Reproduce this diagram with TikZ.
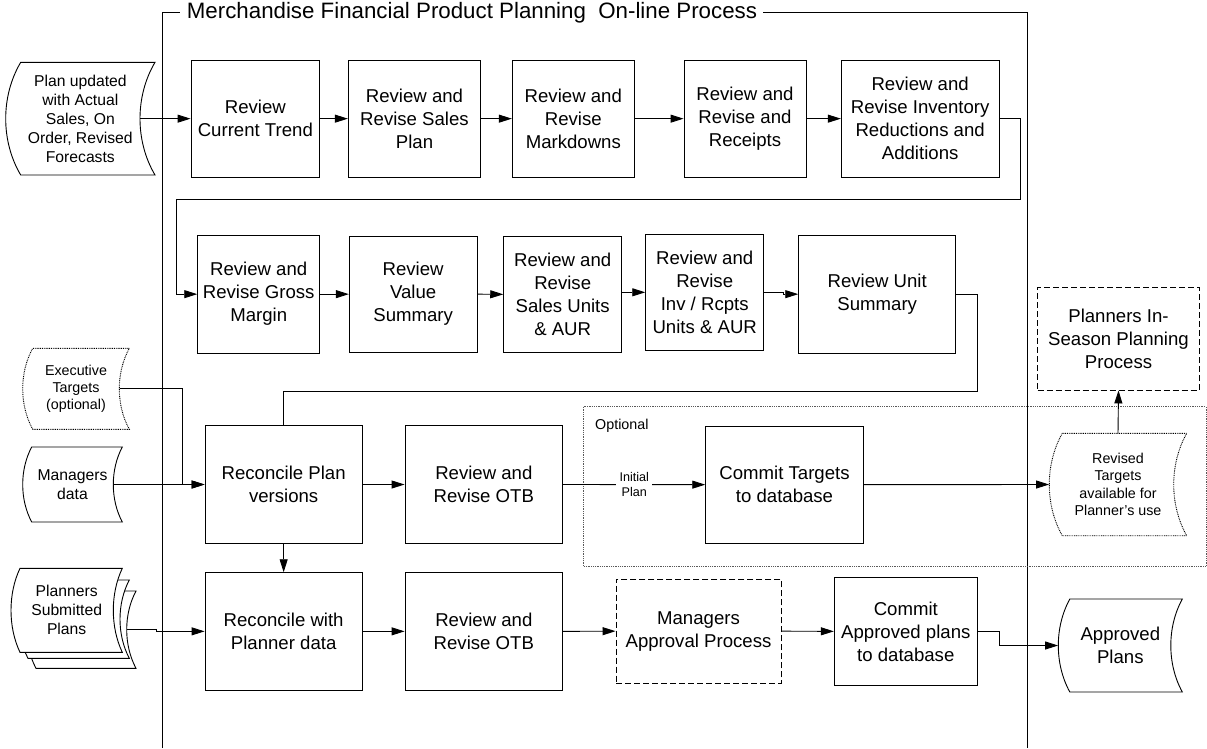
\documentclass[tikz,border=0pt]{standalone}
\usepackage{fontspec}
\setmainfont{Liberation Sans}
\usetikzlibrary{arrows.meta,calc}

% process box from its corners: [style]{name}{x1}{y1}{x2}{y2}{text}
\newcommand\procbox[7][]{%
  \node[box,#1,minimum width={(#5)-(#3)},minimum height={(#6)-(#4)}]
    (#2) at ({((#3)+(#5))/2},{((#4)+(#6))/2}) {#7};}

% stored-data shape: [style]{name}{leftmost x}{top}{right corners x}{bottom}{bulge}{text style}{text}
\newcommand\datadoc[9][]{%
  \draw[docline,#1] (#5,#4) -- ({(#3)+(#7)},#4)
    .. controls ({(#3)-(#7)/3},{(#4)+0.3*((#6)-(#4))}) and ({(#3)-(#7)/3},{(#6)-0.3*((#6)-(#4))}) ..
    ({(#3)+(#7)},#6) -- (#5,#6)
    .. controls ({(#5)-4*(#7)/3},{(#6)-0.3*((#6)-(#4))}) and ({(#5)-4*(#7)/3},{(#4)+0.3*((#6)-(#4))}) ..
    (#5,#4) -- cycle;
  \node[docnode,#8,minimum width={(#5)-(#3)},minimum height={(#6)-(#4)}]
    (#2) at ({((#3)+(#5))/2},{((#4)+(#6))/2}) {#9};}

\begin{document}
\begin{tikzpicture}[x=1pt,y=-1pt,
  every node/.style={inner sep=0pt},
  box/.style={draw, line width=0.9pt, align=center, font=\fontsize{18.6}{23}\selectfont},
  dashbox/.style={dash pattern=on 6pt off 3pt},
  docnode/.style={align=center},
  docline/.style={line width=0.9pt},
  docbig/.style={font=\fontsize{15.7}{19}\selectfont},
  docsmall/.style={font=\fontsize{14.3}{17.4}\selectfont},
  dotline/.style={dash pattern=on 0.9pt off 0.9pt},
  arr/.style={line width=0.9pt, -{Triangle[length=13pt,width=8pt]}},
  link/.style={line width=0.9pt},
]
\useasboundingbox (0,0) rectangle (1207,748);

% process frame with its title
\draw[line width=1pt] (162,748) -- (162,12.3) -- (180,12.3);
\draw[line width=1pt] (763,12.3) -- (1027.7,12.3) -- (1027.7,748);
\node[anchor=base west, font=\fontsize{22.3}{26}\selectfont] (title) at (186.7,18.8)
  {Merchandise Financial Product Planning\ \ On-line Process};

% optional area
\draw[dotline, line width=0.9pt, black!65] (583.7,406.7) rectangle (1206,566.7);
\node[anchor=base west, docsmall] (optlabel) at (595,429.3) {Optional};

% first row
\procbox{b1}{191}{60}{319.7}{177.3}{Review\\Current Trend}
\procbox{b2}{348.3}{60}{480.7}{177.3}{Review and\\Revise Sales\\Plan}
\procbox{b3}{512.3}{60}{634.3}{177.3}{Review and\\Revise\\Markdowns}
\procbox{b4}{684}{60}{806}{177.3}{Review and\\Revise and\\Receipts}
\procbox{b5}{841.3}{60}{999}{177.3}{Review and\\Revise Inventory\\Reductions and\\Additions}

% second row
\procbox{b6}{197.7}{235}{319.7}{353.3}{Review and\\Revise Gross\\Margin}
\procbox{b7}{349.3}{236}{477}{352.3}{Review\\Value\\Summary}
\procbox{b8}{503.7}{236}{621.7}{352.7}{Review and\\Revise\\Sales Units\\\& AUR}
\procbox{b9}{645.7}{234.3}{763.7}{350.3}{Review and\\Revise\\Inv / Rcpts\\Units \& AUR}
\procbox{b10}{798.7}{235}{955.7}{353.3}{Review Unit\\Summary}
\procbox[dashbox]{pis}{1037.7}{287.3}{1199.3}{390}{Planners In-\\Season Planning\\Process}

% third row
\procbox{b11}{205}{425.7}{362.3}{543.3}{Reconcile Plan\\versions}
\procbox{b12}{405}{425.7}{562.7}{543.3}{Review and\\Revise OTB}
\procbox{b13}{705.7}{426}{863.3}{543.3}{Commit Targets\\to database}

% fourth row
\procbox{b14}{205}{572.7}{362.3}{690}{Reconcile with\\Planner data}
\procbox{b15}{405}{572.7}{562.7}{690}{Review and\\Revise OTB}
\procbox[dashbox]{b16}{616}{579}{781}{683.3}{Managers\\Approval Process}
\procbox{b17}{834.3}{577.7}{977.3}{685}{Commit\\Approved plans\\to database}

% data inputs and outputs
\datadoc{plan}{5.7}{62.3}{155}{175}{15}{docbig}{Plan updated\\with Actual\\Sales, On\\Order, Revised\\Forecasts}
\datadoc[dotline]{exec}{22.7}{348.3}{129.3}{429.3}{10}{docsmall}{Executive\\Targets\\(optional)}
\datadoc{mgr}{22.7}{447}{122.3}{522}{9}{docbig}{Managers\\data}
\datadoc[fill=white]{plans3}{26.7}{591}{136}{668.3}{9.3}{}{}
\datadoc[fill=white]{plans2}{18.7}{580}{129.3}{658.3}{9.3}{}{}
\datadoc[fill=white]{plans}{11}{568.3}{122.3}{652.3}{9}{docbig}{Planners\\Submitted\\Plans}
\datadoc[dotline]{rev}{1049.3}{433.3}{1186.7}{535.7}{13}{docsmall}{Revised\\Targets\\available for\\Planner's use}
\datadoc{appr}{1058.3}{599}{1182.3}{692}{11.5}{font=\fontsize{18.6}{23}\selectfont}{Approved\\Plans}

% connectors
\draw[arr] ([xshift=-15pt]plan.east) -- (b1.west);
\draw[arr] (b1.east) -- (b2.west);
\draw[arr] (b2.east) -- (b3.west);
\draw[arr] (b3.east) -- (b4.west);
\draw[arr] (b4.east) -- (b5.west);
\draw[arr] (b5.east) -| (1020.3,199) -- (176,199) |- (b6.west);
\draw[arr] (b6.east) -- (b7.west);
\draw[arr] (b7.east) -- (b8.west);
\draw[arr] (b8.east |- b9.west) -- (b9.west);
\draw[arr] (b9.east) -- ++(19.3,0) |- (b10.west);
\draw[link] (b10.east) -| (977.3,391.7) -| (b11.north);
\draw[arr] ([xshift=-10pt]exec.east) -| ([xshift=-21.7pt]b11.west) -- (b11.west);
\draw[arr] ([xshift=-9pt]mgr.east) -- (b11.west);
\draw[arr] (b11.east) -- (b12.west);
\draw[arr] (b12.east) -- node[fill=white, inner xsep=3.2pt, inner ysep=1pt,
  font=\fontsize{12.6}{15}\selectfont, align=center] (initlbl) {Initial\\Plan} (b13.west);
\draw[arr] (b13.east) -- (rev.west);
\draw[arr] (rev.north) -- (pis.south);
\draw[arr] (b11.south) -- (b14.north);
\draw[arr] ([xshift=-9.3pt]plans3.east) -- ++(30,0) |- (b14.west);
\draw[arr] (b14.east) -- (b15.west);
\draw[arr] (b15.east) -- (b16.west);
\draw[arr] (b16.east) -- (b17.west);
\draw[arr] (b17.east) -- ++(21.7,0) |- (appr.west);
\end{tikzpicture}
\end{document}
